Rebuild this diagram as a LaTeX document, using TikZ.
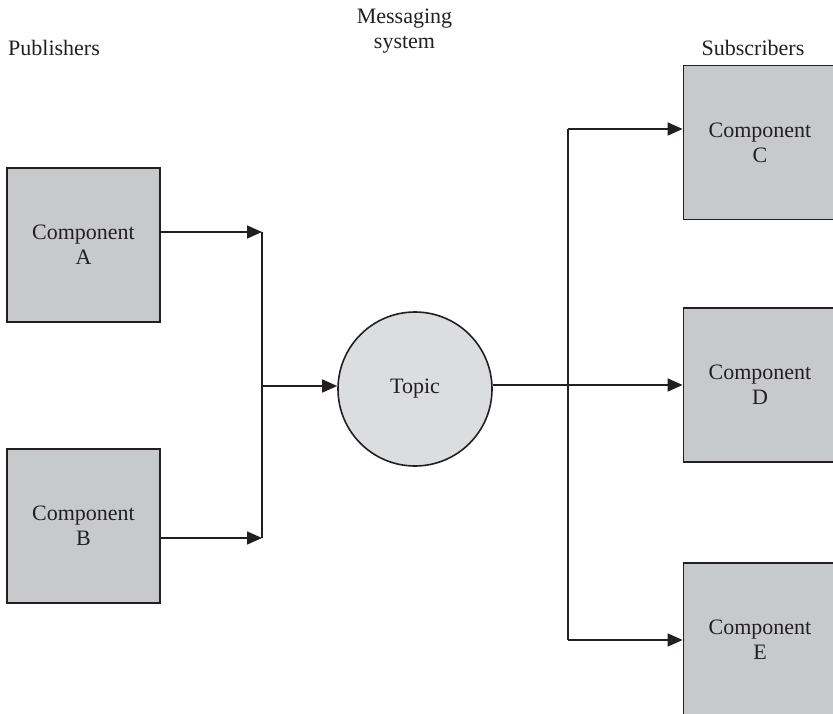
\documentclass[tikz,border=0pt]{standalone}
\usepackage{fontspec}
\setmainfont{Liberation Serif}
\usetikzlibrary{arrows.meta}
\definecolor{boxgray}{HTML}{C8C9CB}
\definecolor{topicgray}{HTML}{DCDDDF}
\definecolor{ink}{HTML}{231F20}
\begin{document}
\begin{tikzpicture}[x=1pt,y=-1pt,
  every node/.style={font=\fontsize{22}{25}\selectfont, text=ink},
  compbox/.style={draw=ink, fill=boxgray, line width=1.8pt, rectangle,
    minimum width=153pt, minimum height=154pt, inner sep=0pt, align=center},
  topicnode/.style={draw=ink, fill=topicgray, line width=1.6pt, circle,
    minimum size=154pt, inner sep=0pt},
  link/.style={draw=ink, line width=1.6pt},
  arr/.style={link, -{Triangle[length=15pt,width=13pt]}},
  heading/.style={inner sep=0pt}
]
\useasboundingbox (0,0) rectangle (833,714);

% headings
\node[heading, anchor=base west] (pub) at (8,56) {Publishers};
\node[heading, anchor=base, align=center] (msg) at (404.5,49) {Messaging\\system};
\node[heading, anchor=base] (sub) at (753,56) {Subscribers};

% publishers
\node[compbox] (A) at (83.5,245) {Component\\A};
\node[compbox] (B) at (83.5,526) {Component\\B};

% messaging system
\node[topicnode] (topic) at (415,389) {Topic};

% subscribers
\node[compbox] (C) at (760,142.5) {Component\\C};
\node[compbox] (D) at (760,385) {Component\\D};
\node[compbox] (E) at (760,640) {Component\\E};

% junction points
\coordinate (ja) at (262,232);
\coordinate (jb) at (262,538);
\coordinate (jm) at (262,386);
\coordinate (jc) at (568,129);
\coordinate (je) at (568,640);

% publishers to topic
\draw[arr] ([yshift=13pt]A.east) -- (ja);
\draw[arr] ([yshift=-12pt]B.east) -- (jb);
\draw[link] (ja) -- (jb);
\draw[arr] (jm) -- ([yshift=3pt]topic.west);

% topic to subscribers
\draw[arr] ([yshift=4pt]topic.east) -- (D.west);
\draw[link] (jc) -- (je);
\draw[arr] (jc) -- ([yshift=13.5pt]C.west);
\draw[arr] (je) -- (E.west);
\end{tikzpicture}
\end{document}
